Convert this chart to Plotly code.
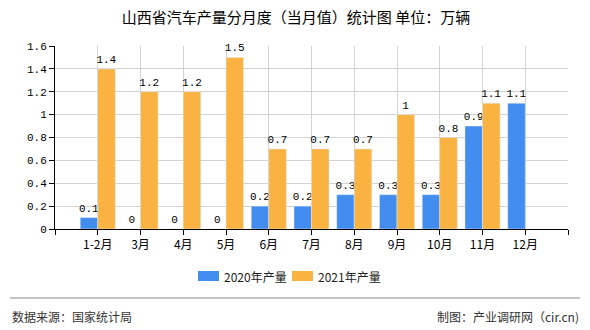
import plotly.graph_objects as go

categories = ["1-2月", "3月", "4月", "5月", "6月", "7月", "8月", "9月", "10月", "11月", "12月"]
values_2020 = [0.1, 0, 0, 0, 0.2, 0.2, 0.3, 0.3, 0.3, 0.9, 1.1]
values_2021 = [1.4, 1.2, 1.2, 1.5, 0.7, 0.7, 0.7, 1.0, 0.8, 1.1, None]
series_names = ["2020年产量", "2021年产量"]
series_colors = ["#428DEF", "#FAB240"]
y_ticks = [0, 0.2, 0.4, 0.6, 0.8, 1.0, 1.2, 1.4, 1.6]
y_ticktext = ["0", "0.2", "0.4", "0.6", "0.8", "1", "1.2", "1.4", "1.6"]

W, H = 590, 330
L, R, T, B = 55, 568, 46, 229  # plot area pixels


def px_x(p):
    return (p - L) / (R - L)


def px_y(p):
    return (B - p) / (B - T)


num_font = dict(family="Liberation Mono, DejaVu Sans Mono", size=11, color="#000000")
cjk = "Noto Sans CJK SC, Noto Sans, sans-serif"
pos = list(range(len(categories)))


def fmt(v):
    if v is None:
        return None
    return ("%g" % v)


fig = go.Figure()
for name, vals, col in zip(series_names, [values_2020, values_2021], series_colors):
    fig.add_trace(go.Bar(
        x=pos, y=vals, name=name, marker_color=col,
        text=[fmt(v) for v in vals], textposition="outside",
        textfont=num_font, cliponaxis=False, constraintext="none",
    ))

n = len(categories)
fig.update_layout(
    width=W, height=H,
    margin=dict(l=L, r=W - R, t=T, b=H - B, autoexpand=False),
    paper_bgcolor="white", plot_bgcolor="white",
    barmode="group", bargap=0.18, bargroupgap=0,
    showlegend=False,
    title=dict(text="山西省汽车产量分月度（当月值）统计图 单位：万辆",
               x=296 / W, xanchor="center", xref="container",
               y=1 - 18 / H, yanchor="middle", yref="container",
               font=dict(family=cjk, size=15, color="#000000")),
)

fig.update_xaxes(
    range=[-1, n], tickmode="array",
    tickvals=list(range(-1, n + 1)),
    ticktext=[""] + categories + [""],
    tickangle=0,
    showgrid=True, gridcolor="#D3D3D3", gridwidth=1,
    showline=True, linecolor="#000000", linewidth=1,
    ticks="outside", ticklen=5, tickcolor="#000000",
    tickfont=dict(family=cjk, size=12, color="#000000"),
    zeroline=False, fixedrange=True,
)
fig.update_yaxes(
    range=[0, 1.6], tickmode="array", tickvals=y_ticks, ticktext=y_ticktext,
    showgrid=True, gridcolor="#D3D3D3", gridwidth=1,
    showline=True, linecolor="#000000", linewidth=1,
    ticks="outside", ticklen=5, tickcolor="#000000",
    tickfont=num_font, zeroline=False, fixedrange=True,
)

# manual legend
legend_items = [(198, series_names[0], series_colors[0]), (292, series_names[1], series_colors[1])]
for x0, name, col in legend_items:
    fig.add_shape(type="rect", xref="paper", yref="paper",
                  x0=px_x(x0), x1=px_x(x0 + 21), y0=px_y(271), y1=px_y(281),
                  fillcolor=col, line=dict(width=0))
    fig.add_annotation(text=name, xref="paper", yref="paper",
                       x=px_x(x0 + 24), y=px_y(276), xanchor="left", yanchor="middle",
                       showarrow=False, font=dict(family=cjk, size=12, color="#222222"))

# footer separator and notes
fig.add_shape(type="line", xref="paper", yref="paper",
              x0=px_x(10), x1=px_x(580), y0=px_y(298), y1=px_y(298),
              line=dict(color="#888888", width=1))
fig.add_annotation(text="数据来源：国家统计局", xref="paper", yref="paper",
                   x=px_x(10), y=px_y(316), xanchor="left", yanchor="middle",
                   showarrow=False, font=dict(family=cjk, size=12, color="#333333"))
fig.add_annotation(text="制图：产业调研网（cir.cn)", xref="paper", yref="paper",
                   x=px_x(581), y=px_y(316), xanchor="right", yanchor="middle",
                   showarrow=False, font=dict(family=cjk, size=12, color="#333333"))

fig.write_html("out.html")
